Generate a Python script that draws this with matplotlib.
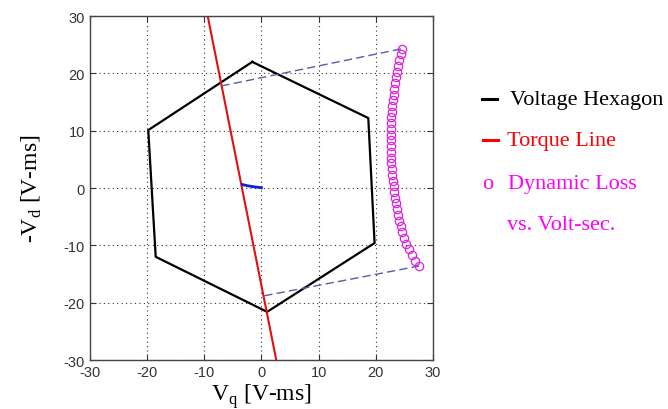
import matplotlib.pyplot as plt
from matplotlib.lines import Line2D
import numpy as np

plt.rcParams['axes.unicode_minus'] = False

# voltage hexagon vertices (closed)
hex_vq = [-1.6, 18.7, 19.8, 1.0, -18.5, -19.8, -1.6]
hex_vd = [22.0, 12.2, -9.6, -21.6, -12.0, 10.1, 22.0]

# torque line end points
torque_vq = [-9.4, 2.6]
torque_vd = [30.0, -30.0]

# short trajectory near origin
traj_vq = [-3.3, -2.5, -1.2, 0.0]
traj_vd = [0.6, 0.4, 0.2, 0.05]

# dashed boundary lines
upper_vq = [-7.0, 24.6]
upper_vd = [17.8, 24.3]
lower_vq = [0.5, 27.6]
lower_vd = [-18.8, -13.6]

# dynamic loss vs volt-sec points
loss_vd = [24.3, 23.3, 22.3, 21.3, 20.3, 19.3, 18.3, 17.3, 16.3, 15.3,
           14.3, 13.3, 12.3, 11.3, 10.3, 9.3, 8.3, 7.3, 6.3, 5.3,
           4.3, 3.3, 2.3, 1.3, 0.3, -0.7, -1.7, -2.7, -3.7, -4.7,
           -5.7, -6.7, -7.7, -8.7, -9.7, -10.7, -11.7, -12.7, -13.6]
loss_vq = [24.6, 24.36, 24.13, 23.93, 23.73, 23.56, 23.4, 23.25, 23.12, 23.0,
           22.9, 22.81, 22.74, 22.68, 22.64, 22.61, 22.6, 22.61, 22.63, 22.68,
           22.74, 22.83, 22.93, 23.03, 23.15, 23.28, 23.42, 23.57, 23.74, 23.92,
           24.12, 24.35, 24.6, 24.9, 25.3, 25.75, 26.3, 26.9, 27.6]

fig = plt.figure(figsize=(6.68, 4.10), dpi=100)
ax = fig.add_axes([0.1347, 0.1195, 0.5133, 0.839])

ax.plot(hex_vq, hex_vd, color='black', lw=1.6)
ax.plot(torque_vq, torque_vd, color='#e01010', lw=1.5)
ax.plot(traj_vq, traj_vd, color='#1020d0', lw=2.0)
ax.plot(upper_vq, upper_vd, color='#5a5aa8', lw=1.0, dashes=(6, 3))
ax.plot(lower_vq, lower_vd, color='#5a5aa8', lw=1.0, dashes=(6, 3))
ax.plot(loss_vq, loss_vd, 'o', mfc='none', mec='#dd22dd', ms=6, mew=0.9)

ax.set_xlim(-30, 30)
ax.set_ylim(-30, 30)
ax.set_xticks(np.arange(-30, 31, 10))
ax.set_yticks(np.arange(-30, 31, 10))
ax.grid(True, color='#333333', linestyle=(0, (1, 3)), lw=0.8)
ax.tick_params(direction='in', top=True, right=True, labelsize=10.5,
               colors='#333333', length=4)
for lab in ax.get_xticklabels() + ax.get_yticklabels():
    lab.set_family('Liberation Sans')
for s in ax.spines.values():
    s.set_color('#444444')
    s.set_linewidth(1.0)

serif = 'Liberation Serif'
ax.set_xlabel(r'V$_\mathregular{q}$ [V-ms]', family=serif, fontsize=17, labelpad=2)
ax.set_ylabel(r'-V$_\mathregular{d}$ [V-ms]', family=serif, fontsize=17, labelpad=14)

# text legend on the right
fs = 16
fig.text(0.763, 0.756, 'Voltage Hexagon', family=serif, fontsize=fs, color='black', va='center')
fig.text(0.759, 0.656, 'Torque Line', family=serif, fontsize=fs, color='#ff0000', va='center')
fig.text(0.722, 0.551, 'o', family=serif, fontsize=fs, color='#ff00ff', va='center')
fig.text(0.760, 0.551, 'Dynamic Loss', family=serif, fontsize=fs, color='#ff00ff', va='center')
fig.text(0.759, 0.451, 'vs. Volt-sec.', family=serif, fontsize=fs, color='#ff00ff', va='center')
fig.add_artist(Line2D([0.722, 0.744], [0.756, 0.756], color='black', lw=2.2))
fig.add_artist(Line2D([0.723, 0.745], [0.656, 0.656], color='#ff0000', lw=2.2))

fig.savefig('out.png', dpi=100)
